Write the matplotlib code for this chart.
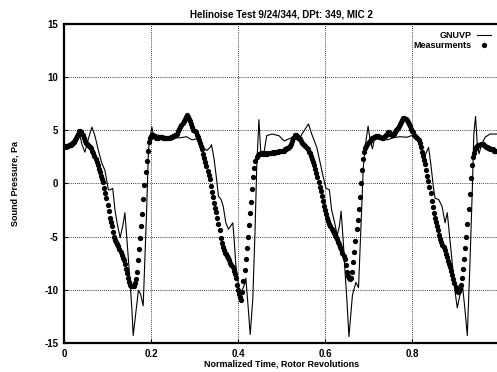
import numpy as np
import matplotlib
matplotlib.use("Agg")
import matplotlib.pyplot as plt

plt.rcParams['font.family'] = ['Liberation Sans', 'DejaVu Sans']
plt.rcParams['axes.unicode_minus'] = False

title = "Helinoise Test 9/24/344, DPt: 349, MIC 2"
xlabel = "Normalized Time, Rotor Revolutions"
ylabel = "Sound Pressure, Pa"
xticks = [0, 0.2, 0.4, 0.6, 0.8]
xtick_labels = ["0", "0.2", "0.4", "0.6", "0.8"]
yticks = [-15, -10, -5, 0, 5, 10, 15]

# Measurements: uniformly sampled, step in rotor revolutions
meas_dt = 0.0025
meas_y = [
    3.5, 3.5, 3.4, 3.5, 3.5, 3.6, 3.6, 3.7, 3.8, 3.9, 4.1, 4.3, 4.5, 4.7, 4.9, 4.9, 4.8, 4.6, 4.3, 4.0,
    3.8, 3.7, 3.6, 3.5, 3.4, 3.3, 3.1, 2.9, 2.6, 2.3, 2.0, 1.7, 1.4, 1.1, 0.7, 0.4, 0.1, -0.4, -0.9, -1.4,
    -2.0, -2.6, -3.2, -3.6, -4.0, -4.6, -5.0, -5.3, -5.5, -5.7, -5.9, -6.2, -6.4, -6.7, -7.0, -7.2, -7.6, -8.0, -8.4, -8.9,
    -9.3, -9.5, -9.6, -9.6, -9.6, -9.4, -9.0, -8.3, -7.2, -6.2, -5.1, -4.0, -2.9, -1.5, -0.1, 1.1, 2.1, 3.1, 3.9, 4.3,
    4.5, 4.6, 4.6, 4.5, 4.4, 4.3, 4.3, 4.4, 4.4, 4.4, 4.4, 4.3, 4.3, 4.3, 4.3, 4.3, 4.3, 4.3, 4.4, 4.4,
    4.5, 4.5, 4.6, 4.6, 4.7, 4.9, 5.1, 5.3, 5.5, 5.7, 5.9, 6.1, 6.3, 6.4, 6.3, 6.1, 5.9, 5.6, 5.3, 5.0,
    4.9, 4.8, 4.6, 4.4, 4.1, 3.8, 3.5, 3.2, 2.8, 2.4, 2.0, 1.6, 1.2, 0.8, 0.4, -0.2, -0.8, -1.3, -1.8, -2.3,
    -2.7, -3.2, -3.8, -4.4, -5.1, -5.6, -6.0, -6.3, -6.5, -6.6, -6.8, -7.0, -7.2, -7.5, -7.7, -7.9, -8.2, -8.5, -8.9, -9.5,
    -10.0, -10.4, -10.7, -11.0, -10.2, -9.2, -8.1, -7.1, -6.1, -5.0, -3.9, -2.8, -1.7, -0.5, 0.6, 1.5, 2.1, 2.5, 2.7, 2.8,
    2.8, 2.9, 2.9, 2.8, 2.8, 2.9, 2.8, 2.8, 2.9, 2.9, 2.9, 2.9, 3.0, 2.9, 3.0, 3.0, 3.0, 3.0, 3.1, 3.1,
    3.1, 3.1, 3.1, 3.2, 3.2, 3.3, 3.3, 3.4, 3.5, 3.7, 4.0, 4.3, 4.6, 4.6, 4.5, 4.4, 4.3, 4.2, 4.0, 3.8,
    3.7, 3.6, 3.5, 3.3, 3.2, 3.0, 2.9, 2.6, 2.3, 2.0, 1.7, 1.4, 1.0, 0.6, 0.1, -0.3, -0.7, -1.2, -1.6, -2.1,
    -2.5, -2.9, -3.2, -3.5, -3.8, -4.0, -4.3, -4.5, -4.7, -4.8, -5.0, -5.2, -5.5, -5.7, -6.0, -6.2, -6.5, -6.8, -7.1, -7.7,
    -8.3, -8.7, -8.9, -9.0, -8.9, -8.3, -7.4, -6.4, -5.4, -4.3, -3.4, -2.4, -1.3, 0.0, 1.3, 2.3, 3.0, 3.3, 3.5, 3.7,
    3.9, 4.0, 4.2, 4.3, 4.3, 4.4, 4.4, 4.5, 4.5, 4.5, 4.4, 4.4, 4.3, 4.3, 4.4, 4.5, 4.6, 4.7, 4.8, 4.8,
    4.7, 4.7, 4.6, 4.7, 4.8, 5.0, 5.1, 5.2, 5.4, 5.6, 5.8, 6.0, 6.2, 6.2, 6.1, 6.0, 5.8, 5.6, 5.4, 5.1,
    4.9, 4.8, 4.6, 4.5, 4.4, 4.3, 4.1, 3.8, 3.4, 3.0, 2.6, 2.2, 1.8, 1.3, 0.7, 0.2, -0.3, -0.9, -1.6, -2.2,
    -2.8, -3.2, -3.6, -4.0, -4.4, -4.8, -5.2, -5.5, -5.8, -6.0, -6.3, -6.6, -6.9, -7.3, -7.6, -7.9, -8.2, -8.6, -9.0, -9.4,
    -9.7, -10.1, -10.2, -10.1, -9.9, -9.5, -8.9, -8.0, -7.1, -6.1, -5.0, -3.8, -2.4, -1.0, 0.5, 1.7, 2.5, 2.9, 3.2, 3.4,
    3.5, 3.6, 3.6, 3.7, 3.7, 3.7, 3.6, 3.5, 3.4, 3.4, 3.3, 3.3, 3.2, 3.2, 3.2, 3.1, 3.1, 3.1, 3.1,
]
meas_x = meas_dt * np.arange(len(meas_y))

gnuvp_x = [
    0.000, 0.006, 0.025, 0.035, 0.041, 0.048, 0.056, 0.064, 0.071, 0.079, 0.087, 0.094, 0.102, 0.106,
    0.112, 0.117, 0.122, 0.129, 0.135, 0.140, 0.144, 0.148, 0.152, 0.156, 0.159, 0.166, 0.171, 0.176,
    0.182, 0.186, 0.190, 0.194, 0.198, 0.202, 0.205, 0.221, 0.244, 0.267, 0.282, 0.294, 0.305, 0.313,
    0.328, 0.336, 0.339, 0.345, 0.351, 0.355, 0.361, 0.366, 0.372, 0.378, 0.383, 0.388, 0.391, 0.395,
    0.401, 0.405, 0.408, 0.414, 0.418, 0.424, 0.428, 0.434, 0.439, 0.443, 0.447, 0.448, 0.452, 0.455,
    0.460, 0.466, 0.478, 0.494, 0.506, 0.517, 0.528, 0.539, 0.547, 0.562, 0.569, 0.581, 0.589, 0.596,
    0.602, 0.610, 0.615, 0.623, 0.628, 0.633, 0.637, 0.642, 0.646, 0.650, 0.655, 0.663, 0.671, 0.677,
    0.682, 0.688, 0.694, 0.699, 0.704, 0.709, 0.715, 0.727, 0.742, 0.757, 0.772, 0.788, 0.799, 0.807,
    0.815, 0.822, 0.830, 0.838, 0.843, 0.849, 0.853, 0.861, 0.869, 0.876, 0.881, 0.887, 0.893, 0.899,
    0.904, 0.910, 0.916, 0.922, 0.927, 0.933, 0.939, 0.942, 0.946, 0.950, 0.954, 0.960, 0.968, 0.979,
    0.995,
]
gnuvp_y = [
    3.5, 3.5, 4.2, 4.9, 3.7, 2.95, 4.2, 5.3, 4.5, 3.1, 1.9, 1.25, -0.6, -0.6,
    -0.45, -2.45, -3.7, -5.1, -4.0, -2.75, -4.9, -7.1, -9.3, -11.8, -14.3, -11.8, -10.05, -10.4,
    -11.5, -7.1, -2.45, 3.1, 4.35, 5.3, 4.65, 4.5, 4.3, 4.3, 4.4, 4.1, 4.2, 3.7,
    3.1, 3.4, 3.65, 2.3, 0.3, -1.2, -1.5, -2.15, -3.7, -4.3, -4.0, -3.7, -5.2, -7.7,
    -9.6, -10.8, -10.2, -9.6, -8.9, -12.0, -14.2, -10.8, -4.6, 1.55, 4.95, 6.0, 3.1, 2.8,
    3.0, 4.5, 4.65, 4.5, 4.0, 4.2, 4.35, 4.0, 4.65, 5.6, 4.7, 3.4, 1.9, 0.6,
    -0.45, -0.6, -2.45, -3.85, -4.9, -4.0, -2.6, -5.5, -8.3, -10.8, -14.4, -10.5, -9.3, -9.8,
    -4.6, 1.55, 4.0, 5.4, 4.0, 3.25, 4.5, 4.35, 4.1, 4.3, 4.4, 4.35, 4.5, 4.35,
    3.9, 3.1, 2.65, 3.4, 1.9, -0.3, -1.4, -1.5, -2.15, -3.7, -2.75, -5.2, -7.7, -10.2,
    -11.7, -10.5, -9.6, -12.0, -14.3, -7.7, 0.0, 4.65, 6.3, 3.7, 2.8, 3.7, 4.35, 4.65,
    4.65,
]

fig = plt.figure(figsize=(4.97, 3.72), dpi=100)
ax = fig.add_axes([0.1288, 0.078, 0.8753, 0.8575])

ax.plot(gnuvp_x, gnuvp_y, color='black', lw=0.8, label='GNUVP', zorder=3)
ax.plot(meas_x, meas_y, linestyle='none', marker='o', ms=3.8, mfc='black', mec='black',
        mew=0, color='black', label='Measurments', zorder=4)

ax.set_xlim(0, 1.0)
ax.set_ylim(-15, 15)
ax.set_xticks(xticks)
ax.set_xticklabels(xtick_labels)
ax.set_yticks(yticks)
ax.grid(True, color='black', linestyle=(0, (1, 1.5)), linewidth=0.6)
ax.tick_params(direction='in', length=3, width=0.8, labelsize=7, pad=4)
for lbl in ax.get_xticklabels() + ax.get_yticklabels():
    lbl.set_fontweight('bold')
for s in ax.spines.values():
    s.set_linewidth(1.6)

ax.set_title(title, fontsize=7, fontweight='bold', pad=5)
ax.set_xlabel(xlabel, fontsize=6.5, fontweight='bold', labelpad=1)
ax.set_ylabel(ylabel, fontsize=6.5, fontweight='bold', labelpad=18)

leg = ax.legend(loc='upper right', bbox_to_anchor=(0.995, 0.995), frameon=False,
                markerfirst=False, numpoints=1, handlelength=1.6, handletextpad=0.6,
                labelspacing=0.1, borderaxespad=0.2,
                prop={'size': 6.5, 'weight': 'bold'})

fig.savefig('out.png', dpi=100)
